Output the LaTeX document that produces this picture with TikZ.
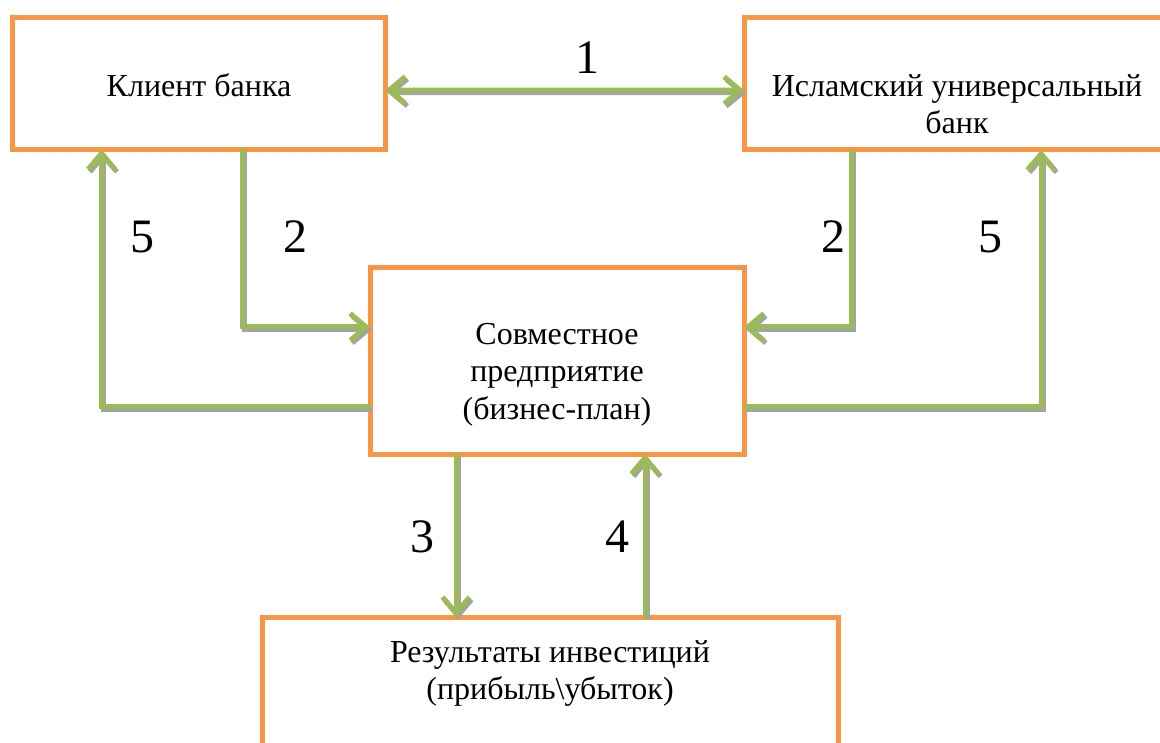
\documentclass[tikz,border=0pt]{standalone}
\usepackage{fontspec}
\setmainfont{Liberation Serif}
\usetikzlibrary{arrows.meta}

\definecolor{boxorange}{HTML}{F79646}
\definecolor{arrowgreen}{HTML}{9BBB59}
\definecolor{shadowgray}{HTML}{A3A3A3}

\tikzset{
  box/.style={draw=boxorange, line width=5pt, fill=white, inner sep=0pt, outer sep=0pt},
  txt/.style={font=\fontsize{32}{37}\selectfont, align=center, inner sep=0pt},
  num/.style={font=\fontsize{48}{48}\selectfont, inner sep=0pt},
  flow/.style={line width=5pt},
  barb/.tip={Straight Barb[length=16pt,width=27pt]}
}

\begin{document}
\begin{tikzpicture}[x=1pt,y=-1pt]
	\useasboundingbox (0,0) rectangle (1160,743);
	\clip (0,0) rectangle (1160,743);
	% boxes
	\node[box, minimum width=373pt, minimum height=132pt] (client) at (199,83.5) {};
	\node[box, minimum width=426pt, minimum height=132.5pt] (bank) at (957,83.75) {};
	\node[box, minimum width=374pt, minimum height=186pt] (venture) at (557,361) {};
	\node[box, minimum width=576pt, minimum height=183pt] (result) at (550,708.5) {};
	% texts (base = last line)
	\node[txt, anchor=base] (tclient) at (199,97) {Клиент банка};
	\node[txt, anchor=base] (tbank) at (957,134) {Исламский универсальный\\банк};
	\node[txt, anchor=base] (tventure) at (557,419) {Совместное\\предприятие\\(бизнес-план)};
	\node[txt, anchor=base] (tresult) at (550,699) {Результаты инвестиций\\(прибыль\textbackslash убыток)};
	% connectors, shadow first
	\foreach \col/\sx/\sy in {shadowgray/2/-2.5, arrowgreen/0/0}{
	\begin{scope}[transform canvas={shift={(\sx pt,\sy pt)}}, every path/.style={draw=\col}]
	\draw[flow, barb-barb] ([yshift=-6.5pt]client.east) -- ([yshift=-6.5pt]bank.west);
	\draw[flow, -barb] ([xshift=43.5pt]client.south) |- ([yshift=34pt]venture.west);
	\draw[flow, -barb] ([yshift=-46pt]venture.west) -| ([xshift=-97.5pt]client.south);
	\draw[flow, -barb] ([xshift=-106pt]bank.south) |- ([yshift=34pt]venture.east);
	\draw[flow, -barb] ([yshift=-46pt]venture.east) -| ([xshift=84pt]bank.south);
	\draw[flow, -barb] ([xshift=-101pt]venture.south) -- ([xshift=-94pt]result.north);
	\draw[flow, -barb] ([xshift=95pt]result.north) -- ([xshift=88pt]venture.south);
	\end{scope}
	}
	% numbers
	\node[num] (n1) at (587,58) {1};
	\node[num] (n2a) at (295,237) {2};
	\node[num] (n5a) at (142,237) {5};
	\node[num] (n2b) at (833,237) {2};
	\node[num] (n5b) at (990,237) {5};
	\node[num] (n3) at (422,537) {3};
	\node[num] (n4) at (617,537) {4};
\end{tikzpicture}
\end{document}
